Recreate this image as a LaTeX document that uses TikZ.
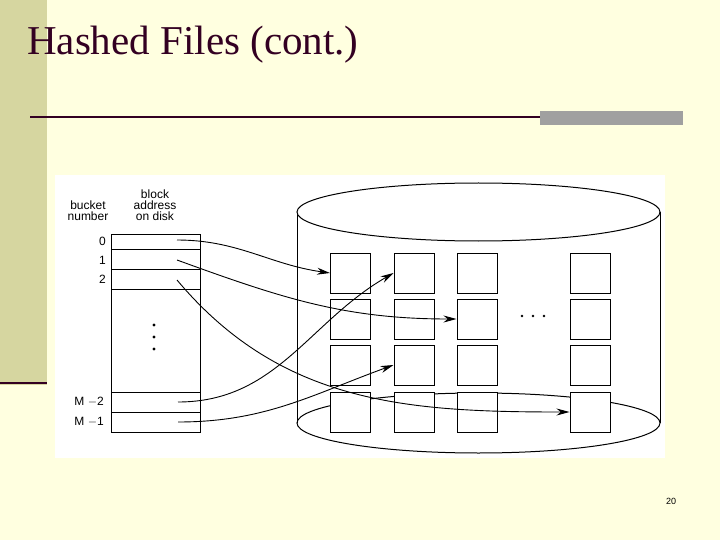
\documentclass[tikz,border=0pt]{standalone}
\usepackage{fontspec}
\setmainfont{Liberation Serif}
\newfontfamily\lsans{Liberation Sans}
\usetikzlibrary{arrows.meta}
\definecolor{bg}{RGB}{255,255,224}
\definecolor{bar}{RGB}{214,214,160}
\definecolor{dk}{RGB}{51,0,34}
\definecolor{gr}{RGB}{160,160,160}
\begin{document}
\begin{tikzpicture}[x=1pt,y=-1pt,
  lbl/.style={font=\lsans\fontsize{12}{12}\selectfont,inner sep=0pt,align=center},
  blk/.style={draw,fill=white,line width=1pt,minimum width=40pt,minimum height=40pt,inner sep=0pt},
  conn/.style={line width=0.9pt,-{Stealth[length=13pt,width=7pt]}}]
\fill[bg] (0,0) rectangle (720,540);
\useasboundingbox (0,0) rectangle (720,540);
\fill[bar] (0,0) rectangle (47,385);
\draw[dk,line width=2.5pt] (0,383) -- (47,383);
\node[anchor=west,dk,font=\fontsize{41}{41}\selectfont,inner sep=0pt] (title) at (27,45) {Hashed Files (cont.)};
\draw[dk,line width=2.5pt] (30,117) -- (540,117);
\fill[gr] (540,111) rectangle (683,125);
\node[font=\lsans\fontsize{9}{9}\selectfont] (pg) at (671,501) {20};
\fill[white] (55,175) rectangle (665,458);
% cylinder
\draw[line width=1pt] (297,212) -- (297,423);
\draw[line width=1pt] (660,212) -- (660,423);
\draw[line width=1pt] (478.5,423) ellipse [x radius=181.5, y radius=30];
\draw[line width=1pt,fill=white] (478.5,212) ellipse [x radius=181.5, y radius=29];
% table
\draw[line width=1pt] (111,234) rectangle (200,432);
\foreach \yy in {249,269,289,392,412} \draw[line width=1pt] (111,\yy) -- (200,\yy);
\node[lbl] (hb) at (88,211) {bucket\\[-1pt]number};
\node[lbl] (ha) at (155,205) {block\\[-1pt]address\\[-1pt]on disk};
\node[lbl,anchor=east] (l0) at (106,241) {0};
\node[lbl,anchor=east] (l1) at (106,260) {1};
\node[lbl,anchor=east] (l2) at (106,279) {2};
\node[lbl,anchor=east] (l3) at (104,402) {M $-$2};
\node[lbl,anchor=east] (l4) at (104,422) {M $-$1};
\foreach \yy in {325,337,349} \fill (154,\yy) circle (1.6);
\foreach \xx in {522,533,544} \fill (\xx,316) circle (1.4);
% blocks
\foreach \c/\xx in {1/350.5,2/414,3/477,4/590} \foreach \r/\yy in {1/273,2/319,3/365,4/412}
  \node[blk] (b\c\r) at (\xx,\yy) {};
\coordinate (s0) at (177,240);
\coordinate (s1) at (177,260);
\coordinate (s2) at (177,280);
\coordinate (s3) at (178,402);
\coordinate (s4) at (178,422);
\draw[conn] (s0) to[out=0,in=172] (b11.west);
\draw[conn] (s1) to[out=-20,in=180] (b32.west);
\draw[conn] (s2) to[out=-50,in=180] (b44.west);
\draw[conn] (s3) to[out=0,in=210] (b21.west);
\draw[conn] (s4) to[out=0,in=200] (b23.west);
\end{tikzpicture}
\end{document}
